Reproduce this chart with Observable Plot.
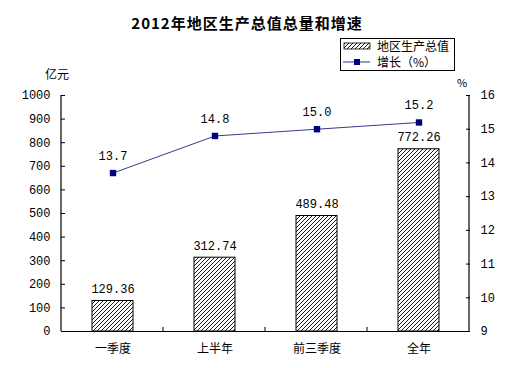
<!DOCTYPE html>
<html><head><meta charset="utf-8">
<script src="https://cdn.jsdelivr.net/npm/d3@7"></script>
<script src="https://cdn.jsdelivr.net/npm/@observablehq/plot@0.6"></script>
<style>
body{margin:0;background:#fff;}
#wrap{position:relative;width:532px;height:368px;font-family:"Noto Sans CJK SC",sans-serif;color:#000;}
.abs{position:absolute;white-space:nowrap;line-height:1;}
#title{left:0;width:494px;top:15px;text-align:center;font-size:15px;font-weight:bold;letter-spacing:1px;}
#legend{left:340px;top:38px;width:113px;height:31px;border:1px solid #000;font-size:12px;background:#fff;}
.lrow{position:absolute;left:2px;height:12px;display:flex;align-items:center;}
</style></head>
<body>
<svg width="0" height="0" style="position:absolute">
<defs>
<pattern id="hatch" patternUnits="userSpaceOnUse" width="4" height="4">
<rect width="4" height="4" fill="#fff"/>
<path d="M-1,1 l2,-2 M0,4 l4,-4 M3,5 l2,-2" stroke="#000" stroke-width="0.9"/>
</pattern>
</defs>
</svg>
<div id="wrap">
<div id="title" class="abs">2012年地区生产总值总量和增速</div>
<div class="abs" style="left:45px;top:68px;font-size:12px;">亿元</div>
<div class="abs" style="left:457px;top:77px;font-size:11px;">%</div>
<div id="legend" class="abs">
 <div class="lrow" style="top:1px;"><svg width="28" height="10"><rect x="1" y="2" width="26" height="6" fill="url(#hatch)" stroke="#000" stroke-width="0.8"/></svg><span style="margin-left:6px;line-height:12px;">地区生产总值</span></div>
 <div class="lrow" style="top:17px;"><svg width="28" height="12"><line x1="0" y1="6" x2="27" y2="6" stroke="#333388"/><rect x="11" y="3" width="6" height="6" fill="#000080"/></svg><span style="margin-left:6px;line-height:12px;">增长（%）</span></div>
</div>
</div>
<script>
const categories = ["一季度", "上半年", "前三季度", "全年"];
const gdp = [129.36, 312.74, 489.48, 772.26];
const growth = [13.7, 14.8, 15.0, 15.2];
const leftTicks = [0, 100, 200, 300, 400, 500, 600, 700, 800, 900, 1000];
const rightTicks = [9, 10, 11, 12, 13, 14, 15, 16];

const rMin = 9, rMax = 16;
const toLeft = v => (v - rMin) / (rMax - rMin) * 1000;

const barData = categories.map((c, i) => ({cat: c, v: gdp[i]}));
const lineData = categories.map((c, i) => ({cat: c, g: growth[i], y: toLeft(growth[i])}));

const numFont = "Liberation Mono, DejaVu Sans Mono, monospace";

const plot = Plot.plot({
  width: 532, height: 368,
  marginLeft: 61, marginRight: 63, marginTop: 95, marginBottom: 37,
  style: {background: "transparent", fontSize: "12px", fontFamily: "Noto Sans CJK SC, sans-serif", color: "#000"},
  x: {domain: categories, paddingInner: 0.6, paddingOuter: 0.3, label: null},
  y: {domain: [0, 1000], label: null},
  marks: [
    Plot.barY(barData, {x: "cat", y: "v", fill: "url(#hatch)", stroke: "#000", strokeWidth: 1}),
    Plot.text(barData, {x: "cat", y: "v", text: d => d.v.toFixed(2), dy: -12, fontSize: 12, fontFamily: numFont}),
    Plot.line(lineData, {x: "cat", y: "y", stroke: "#3a3a8c", strokeWidth: 1}),
    Plot.dot(lineData, {x: "cat", y: "y", symbol: "square", r: 3.6, fill: "#000080", stroke: null}),
    Plot.text(lineData, {x: "cat", y: "y", text: d => d.g.toFixed(1), dy: -17, fontSize: 12, fontFamily: numFont}),
    Plot.axisY({anchor: "left", ticks: leftTicks, tickFormat: d => String(d), tickSize: -4, tickPadding: 15, fontSize: 12, fontFamily: numFont, label: null}),
    Plot.axisY({anchor: "right", ticks: rightTicks.map(toLeft), tickFormat: d => String(Math.round(d / 1000 * (rMax - rMin) + rMin)), tickSize: -4, tickPadding: 15, fontSize: 12, fontFamily: numFont, label: null}),
    Plot.axisX({anchor: "bottom", tickSize: 0, tickPadding: 13, fontSize: 12, label: null}),
    Plot.ruleY([0], {stroke: "#000", strokeWidth: 1.2})
  ]
});
plot.style.position = "absolute";
plot.style.left = "0px";
plot.style.top = "0px";
const wrap = document.getElementById("wrap");
wrap.insertBefore(plot, wrap.firstChild);

const xs = plot.scale("x"), ys = plot.scale("y");
const [x0, x1] = [xs.range[0], xs.range[1]];
const [yb, yt] = [ys.range[0], ys.range[1]];
const svg = d3.select(plot);
const g = svg.append("g").attr("stroke", "#000");
g.append("line").attr("x1", x0).attr("x2", x0).attr("y1", yb).attr("y2", yt).attr("stroke-width", 1.2);
g.append("line").attr("x1", x1).attr("x2", x1).attr("y1", yb).attr("y2", yt).attr("stroke-width", 1.2);
const step = (x1 - x0) / categories.length;
for (let i = 1; i < categories.length; i++) {
  const xx = x0 + step * i;
  g.append("line").attr("x1", xx).attr("x2", xx).attr("y1", yb).attr("y2", yb - 4);
}
</script>
</body></html>
